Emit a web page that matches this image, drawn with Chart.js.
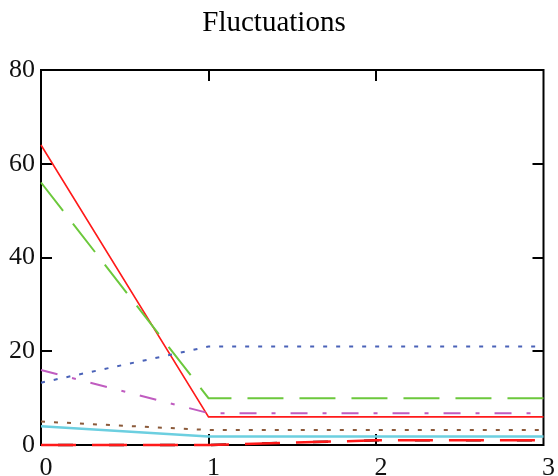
<!DOCTYPE html>
<html>
<head>
<meta charset="utf-8">
<script src="https://cdn.jsdelivr.net/npm/chart.js@4.4.1/dist/chart.umd.min.js"></script>
<style>
  body { margin: 0; background: #fff; }
  #wrap { width: 558px; height: 476px; }
</style>
</head>
<body>
<div id="wrap"><canvas id="chart"></canvas></div>
<script>
const xValues = [0, 1, 2, 3];
const yTicks = [0, 20, 40, 60, 80];
const xTicks = [0, 1, 2, 3];

const redSolid = [64, 6, 6, 6];
const greenDash = [56, 10, 10, 10];
const blueDot = [13.3, 21, 21, 21];
const magentaDashDot = [16, 6.8, 6.8, 6.8];
const brownDot = [5, 3.2, 3.2, 3.2];
const cyanSolid = [4, 1.8, 1.8, 1.8];
const redDash = [0, 0, 1, 1];
const blackDash = [0, 0, 1, 1];

const toPoints = (ys) => ys.map((y, i) => ({ x: xValues[i], y: y }));

function series(values, color, width, dash, dashOffset) {
  return {
    data: toPoints(values),
    borderColor: color,
    borderWidth: width,
    borderDash: dash || [],
    borderDashOffset: dashOffset || 0,
    pointRadius: 0,
    fill: false,
    tension: 0,
    clip: 4,
  };
}

// frame box with inward tick marks, like the original plot
const framePlugin = {
  id: "frame",
  beforeDatasetsDraw(chart) {
    const { ctx, chartArea: a, scales } = chart;
    const len = 11;
    ctx.save();
    ctx.strokeStyle = "#000";
    ctx.lineWidth = 2;
    ctx.strokeRect(a.left, a.top, a.right - a.left, a.bottom - a.top);
    ctx.beginPath();
    yTicks.slice(1, -1).forEach(v => {
      const y = Math.round(scales.y.getPixelForValue(v));
      ctx.moveTo(a.left, y); ctx.lineTo(a.left + len, y);
      ctx.moveTo(a.right, y); ctx.lineTo(a.right - len, y);
    });
    xTicks.slice(1, -1).forEach(v => {
      const x = Math.round(scales.x.getPixelForValue(v));
      ctx.moveTo(x, a.top); ctx.lineTo(x, a.top + len);
      ctx.moveTo(x, a.bottom); ctx.lineTo(x, a.bottom - len);
    });
    ctx.stroke();
    ctx.restore();
  }
};

const tickFont = { family: "'Liberation Serif', 'DejaVu Serif', serif", size: 26 };

new Chart(document.getElementById("chart"), {
  type: "line",
  data: {
    datasets: [
      series(cyanSolid, "#6ccfe0", 2.5),
      series(brownDot, "#8b5a3a", 2, [4, 9]),
      series(magentaDashDot, "#c05cc0", 2, [17, 15, 4, 15]),
      series(blueDot, "#4a62b8", 2, [4, 9]),
      series(greenDash, "#6cc83c", 2, [36, 16]),
      series(redSolid, "#ff1a1a", 1.6),
      series(redDash, "#ff1a1a", 2.5, [35, 16]),
      series(blackDash, "#111", 2.5, [15, 36], 34),
    ]
  },
  options: {
    responsive: true,
    maintainAspectRatio: false,
    animation: false,
    layout: { autoPadding: false, padding: { top: 0, right: 10, bottom: 0, left: 0 } },
    plugins: {
      legend: { display: false },
      tooltip: { enabled: false },
      title: {
        display: true,
        text: "Fluctuations",
        color: "#000",
        font: { family: "'Liberation Serif', 'DejaVu Serif', serif", size: 29, weight: "normal" },
        padding: { top: 6, bottom: 29.2 },
      }
    },
    scales: {
      x: {
        type: "linear",
        min: 0,
        max: 3,
        afterBuildTicks: (s) => { s.ticks = xTicks.map(v => ({ value: v })); },
        afterFit: (s) => { s.height = 31; },
        grid: { display: false, drawTicks: false },
        border: { display: false },
        ticks: { color: "#111", font: tickFont, padding: 8, labelOffset: 5, maxRotation: 0 },
      },
      y: {
        min: 0,
        max: 80,
        afterBuildTicks: (s) => { s.ticks = yTicks.map(v => ({ value: v })); },
        afterFit: (s) => { s.width = 41; },
        grid: { display: false, drawTicks: false },
        border: { display: false },
        ticks: { color: "#111", font: tickFont, padding: 6 },
      }
    }
  },
  plugins: [framePlugin]
});
</script>
</body>
</html>
